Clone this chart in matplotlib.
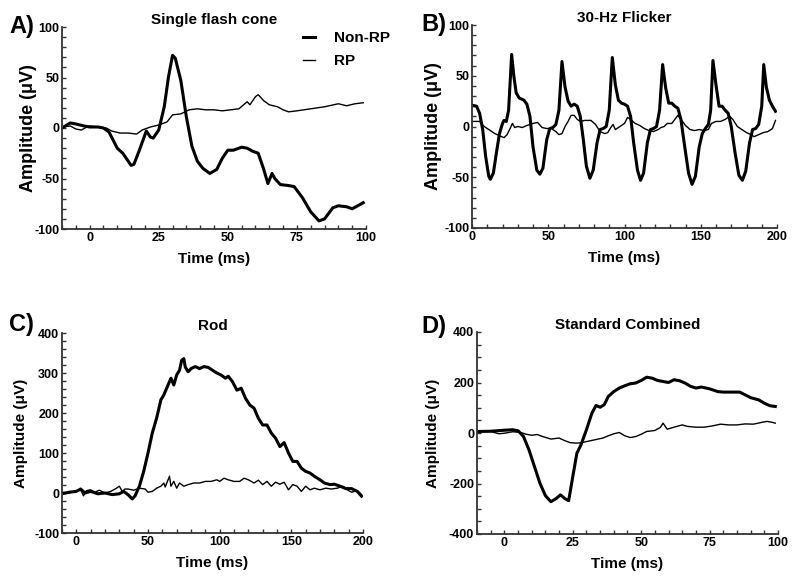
import numpy as np
import matplotlib
matplotlib.use('Agg')
import matplotlib.pyplot as plt
from matplotlib.ticker import MultipleLocator

plt.rcParams['font.family'] = ['Liberation Sans', 'DejaVu Sans']
plt.rcParams['font.weight'] = 'bold'
plt.rcParams['axes.unicode_minus'] = False

# A) Single flash cone
a_t_non = [-10, -7, -5, -2, 0, 3, 5, 7, 10, 12, 15, 16, 18, 20.5, 22, 23, 25, 27, 28.5, 30, 31, 33, 35, 37,
           39, 41, 43.5, 46, 48, 50, 52, 55, 57, 59, 61, 63, 64.5, 66, 67, 69, 72, 74, 77, 80, 83, 85, 88,
           90, 93, 95, 97, 99]
a_v_non = [0, 5, 4, 2, 1, 1, 0, -4, -20, -25, -37, -36, -22, -3, -9, -10, -2, 21, 50, 72, 69, 47, 11, -18,
           -33, -40, -45, -41, -30, -22, -22, -19, -20, -23, -25, -41, -55, -45, -50, -56, -57, -58, -69, -83,
           -92, -90, -79, -77, -78, -80, -77, -74]
a_t_rp = [-10, -7, -5, -3, -1, 0, 3, 6, 8, 11, 14, 17, 19, 22, 25, 28, 30, 33, 36, 39, 42, 45, 48, 51, 54,
          57, 58, 60, 61, 63, 65, 68, 70, 72, 75, 80, 85, 90, 93, 96, 99]
a_v_rp = [1, 2, -1, -2, 1, 2, 1, 0, -3, -5, -5, -6, -2, 1, 3, 6, 13, 14, 18, 19, 18, 18, 17, 18, 19,
          26, 23, 31, 33, 27, 23, 21, 18, 16, 17, 19, 21, 24, 22, 24, 25]

# B) 30-Hz Flicker
b_t_non = [0, 3, 5, 7, 9, 11, 12, 14, 16, 18, 20, 21, 22.5, 24, 26, 27.5, 29, 31, 34, 36, 38, 40, 42.5,
           44.5, 46.5, 49, 51, 53, 55, 57, 59, 61, 63, 65, 67, 69, 71, 73, 75, 77.3, 79.5, 82, 84, 86, 88,
           90, 92, 94, 96, 98, 100, 102, 104, 106, 108.5, 110.5, 112.5, 115, 117, 119, 121, 123, 125, 127,
           129, 131, 133, 135, 137, 139.5, 142, 144.3, 146.5, 149, 151, 153, 155, 156.5, 158, 160, 162,
           164, 166, 168, 170, 172.5, 175, 177.3, 179.5, 182, 184, 186, 188, 190, 191.3, 193, 195, 197, 199]
b_v_non = [21, 20, 13, -3, -30, -49, -52, -46, -26, -7, 3, 6, 5, 16, 71, 49, 33, 28, 26, 22, 10, -20, -43,
           -47, -41, -13, -2, -1, 2, 16, 64, 39, 25, 20, 22, 20, 10, -13, -39, -51, -43, -16, -3, -2, 0,
           16, 68, 41, 26, 23, 22, 20, 10, -16, -43, -53, -46, -16, -3, -2, 0, 16, 61, 38,
           23, 23, 20, 18, 7, -20, -46, -57, -49, -20, -7, -2, 2, 16, 65, 41, 20,
           20, 16, 13, 0, -26, -48, -53, -44, -16, -3, -2, 2, 20, 61, 39, 26, 20, 15]
b_t_rp = [0, 5, 8, 12, 15, 18, 21, 23, 25, 26.5, 28, 30, 33, 36, 40, 43, 46, 49, 52, 55, 57, 59, 61, 63,
          65, 67, 69, 71, 74, 78, 81, 84, 87, 89, 91, 92.5, 94, 97, 100, 102, 104, 107, 110, 113, 116, 119,
          122, 124, 126, 128, 131, 133, 135, 137, 140, 143, 146, 149, 152, 155, 157, 160, 163, 166, 169,
          171, 174, 177, 180, 183, 185, 188, 191, 194, 197, 199]
b_v_rp = [5, 5, 0, -4, -7, -9, -11, -8, -2, 3, -1, 0, -1, 1, 3, 4, -1, -2, -2, -5, -8, -7, 0, 5,
          11, 11, 7, 5, 6, 6, 2, -5, -7, -6, -1, 2, -3, 0, 3, 9, 7, 3, 1, -2, -4, -5,
          -3, -1, 0, 3, 3, 7, 11, 7, 1, -3, -4, -3, -4, -3, 3, 5, 5, 7, 10,
          7, 0, -3, -6, -8, -10, -8, -6, -5, -2, 6]

# C) Rod
c_t_non = [-10, -5, 0, 3, 6, 10, 15, 20, 25, 30, 33, 36, 39, 41, 44, 47, 50, 53, 56, 59, 61, 64, 66, 68,
           70, 72, 73.5, 75, 76, 78, 80, 83, 86, 89, 92, 95, 98, 101, 104, 106, 109, 112, 115, 118, 121,
           124, 127, 130, 133, 136, 139, 142, 145, 148, 151, 154, 157, 160, 163, 166, 170, 173, 177, 180,
           184, 188, 192, 196, 199]
c_v_non = [-2, 2, 4, 10, 0, 4, -2, 0, -4, -2, 4, -4, -15, -7, 17, 54, 100, 150, 187, 233, 245, 270, 287, 270,
           295, 307, 332, 336, 315, 303, 311, 316, 311, 316, 314, 307, 300, 295, 287, 292, 278, 257, 262, 237,
           220, 212, 187, 170, 170, 150, 137, 116, 126, 100, 79, 79, 62, 54, 50, 42, 33, 25, 21, 22,
           17, 11, 11, 4, -8]
c_t_rp = [-10, -5, 0, 3, 5, 7, 10, 13, 16, 20, 24, 28, 30, 32, 34, 36, 40, 44, 48, 50, 53, 56, 59, 61, 62,
          64, 65, 66, 68, 70, 72, 75, 78, 82, 86, 90, 94, 98, 100, 103, 106, 110, 114, 117, 120, 124, 127,
          130, 133, 136, 139, 142, 145, 148, 151, 154, 157, 160, 163, 166, 170, 174, 178, 182, 186, 189,
          192, 196, 199]
c_v_rp = [2, 0, 6, 8, -7, 6, 8, 2, 7, 0, 4, 12, 17, 4, 10, 10, 7, 12, 10, 2, 4, 12, 17, 25, 15,
          33, 42, 17, 29, 12, 25, 17, 21, 25, 25, 29, 29, 33, 29, 37, 33, 29, 29, 37, 33, 25, 32,
          21, 29, 17, 27, 22, 27, 8, 21, 17, 4, 17, 8, 12, 8, 12, 10, 12, 17, 8,
          2, 6, -4]

# D) Standard Combined
d_t_non = [-10, -5, 0, 3, 5, 7, 9, 11, 13, 15, 17, 19, 20.5, 22, 23.5, 25, 26.5, 28, 30, 32, 33.5, 35,
           36.5, 38, 40, 42, 44, 46, 48, 50, 52, 54, 56, 58, 60, 62, 64, 66, 68, 70, 72, 75, 78, 80, 83,
           86, 88, 90, 93, 95, 97, 99]
d_v_non = [6, 7, 11, 13, 9, -14, -67, -133, -199, -248, -272, -259, -245, -259, -268, -173, -80, -47, 13,
           79, 109, 102, 112, 145, 164, 178, 187, 195, 198, 208, 221, 217, 208, 204, 200, 211, 207, 198,
           185, 178, 182, 175, 164, 162, 162, 162, 151, 140, 131, 118, 108, 105]
d_t_rp = [-10, -5, -2, 0, 3, 6, 8, 10, 12, 14, 17, 20, 22, 24, 26, 28, 30, 33, 36, 38, 40, 42, 44, 46,
          48, 50, 52, 55, 57, 58, 59.5, 61, 63, 65, 67, 70, 73, 76, 79, 82, 85, 88, 91, 94, 96, 98, 99]
d_v_rp = [6, 6, -3, -1, 5, 2, -5, -9, -6, -14, -24, -20, -30, -38, -40, -39, -34, -27, -20, -11, -3, 2,
          -11, -18, -14, -5, 6, 10, 22, 39, 15, 20, 26, 32, 26, 23, 23, 28, 35, 32, 32, 36, 35, 42,
          46, 42, 39]

panels = [
    dict(label='A)', title='Single flash cone', pos=[62, 27, 366, 229], xlim=(-10, 100), ylim=(-100, 100),
         xmin=5, ymaj=50, ymin=10, ylab=13, ylx=37, letx=34, lety=1.0,
         data=(a_t_non, a_v_non, a_t_rp, a_v_rp), xticks=[0, 25, 50, 75, 100]),
    dict(label='B)', title='30-Hz Flicker', pos=[472, 25, 777, 228], xlim=(0, 200), ylim=(-100, 100),
         xmin=10, ymaj=50, ymin=10, ylab=13, ylx=442, letx=446, lety=1.0,
         data=(b_t_non, b_v_non, b_t_rp, b_v_rp), xticks=[0, 50, 100, 150, 200]),
    dict(label='C)', title='Rod', pos=[62, 333, 363, 533], xlim=(-10, 200), ylim=(-100, 400),
         xmin=10, ymaj=100, ymin=20, ylab=11, ylx=28, letx=34, lety=1.04,
         data=(c_t_non, c_v_non, c_t_rp, c_v_rp), xticks=[0, 50, 100, 150, 200]),
    dict(label='D)', title='Standard Combined', pos=[477, 332, 778, 534], xlim=(-10, 100), ylim=(-400, 400),
         xmin=5, ymaj=200, ymin=50, ylab=11, ylx=440, letx=446, lety=1.025,
         data=(d_t_non, d_v_non, d_t_rp, d_v_rp), xticks=[0, 25, 50, 75, 100]),
]

W, H = 800, 582
fig = plt.figure(figsize=(W / 100, H / 100), dpi=100)

for p in panels:
    x0, y0, x1, y1 = p['pos']
    ax = fig.add_axes([x0 / W, 1 - y1 / H, (x1 - x0) / W, (y1 - y0) / H])
    tn, vn, tr, vr = p['data']
    l1, = ax.plot(tn, vn, color='black', lw=2.2, solid_joinstyle='round')
    l2, = ax.plot(tr, vr, color='black', lw=1.0, solid_joinstyle='round')
    ax.set_xlim(*p['xlim'])
    ax.set_ylim(*p['ylim'])
    ax.set_xticks(p['xticks'])
    ax.yaxis.set_major_locator(MultipleLocator(p['ymaj']))
    ax.xaxis.set_minor_locator(MultipleLocator(p['xmin']))
    ax.yaxis.set_minor_locator(MultipleLocator(p['ymin']))
    ax.tick_params(which='both', direction='in', length=3, width=1, labelsize=9, pad=2, color='#333333')
    for s in ['top', 'right']:
        ax.spines[s].set_visible(False)
    for s in ['left', 'bottom']:
        ax.spines[s].set_linewidth(1.3)
        ax.spines[s].set_color('#333333')
    ax.set_title(p['title'], fontsize=11, fontweight='bold', pad=2)
    ax.set_xlabel('Time (ms)', fontsize=11, fontweight='bold', labelpad=6)
    ax.set_ylabel('Amplitude (μV)', fontsize=p['ylab'], fontweight='bold')
    ax.yaxis.set_label_coords((p['ylx'] - x0) / (x1 - x0), 0.5)
    ax.text((p['letx'] - x0) / (x1 - x0), p['lety'], p['label'], transform=ax.transAxes, fontsize=17,
            fontweight='bold', ha='right', va='center')
    if p['label'] == 'A)':
        fig.legend([l1, l2], ['Non-RP', 'RP'], loc='upper left', bbox_to_anchor=(303 / W, 1 - 31 / H),
                   frameon=False, fontsize=11, handlelength=0.8, handletextpad=1.2, labelspacing=0.6,
                   borderpad=0, borderaxespad=0)

fig.savefig('out.png', dpi=100)
